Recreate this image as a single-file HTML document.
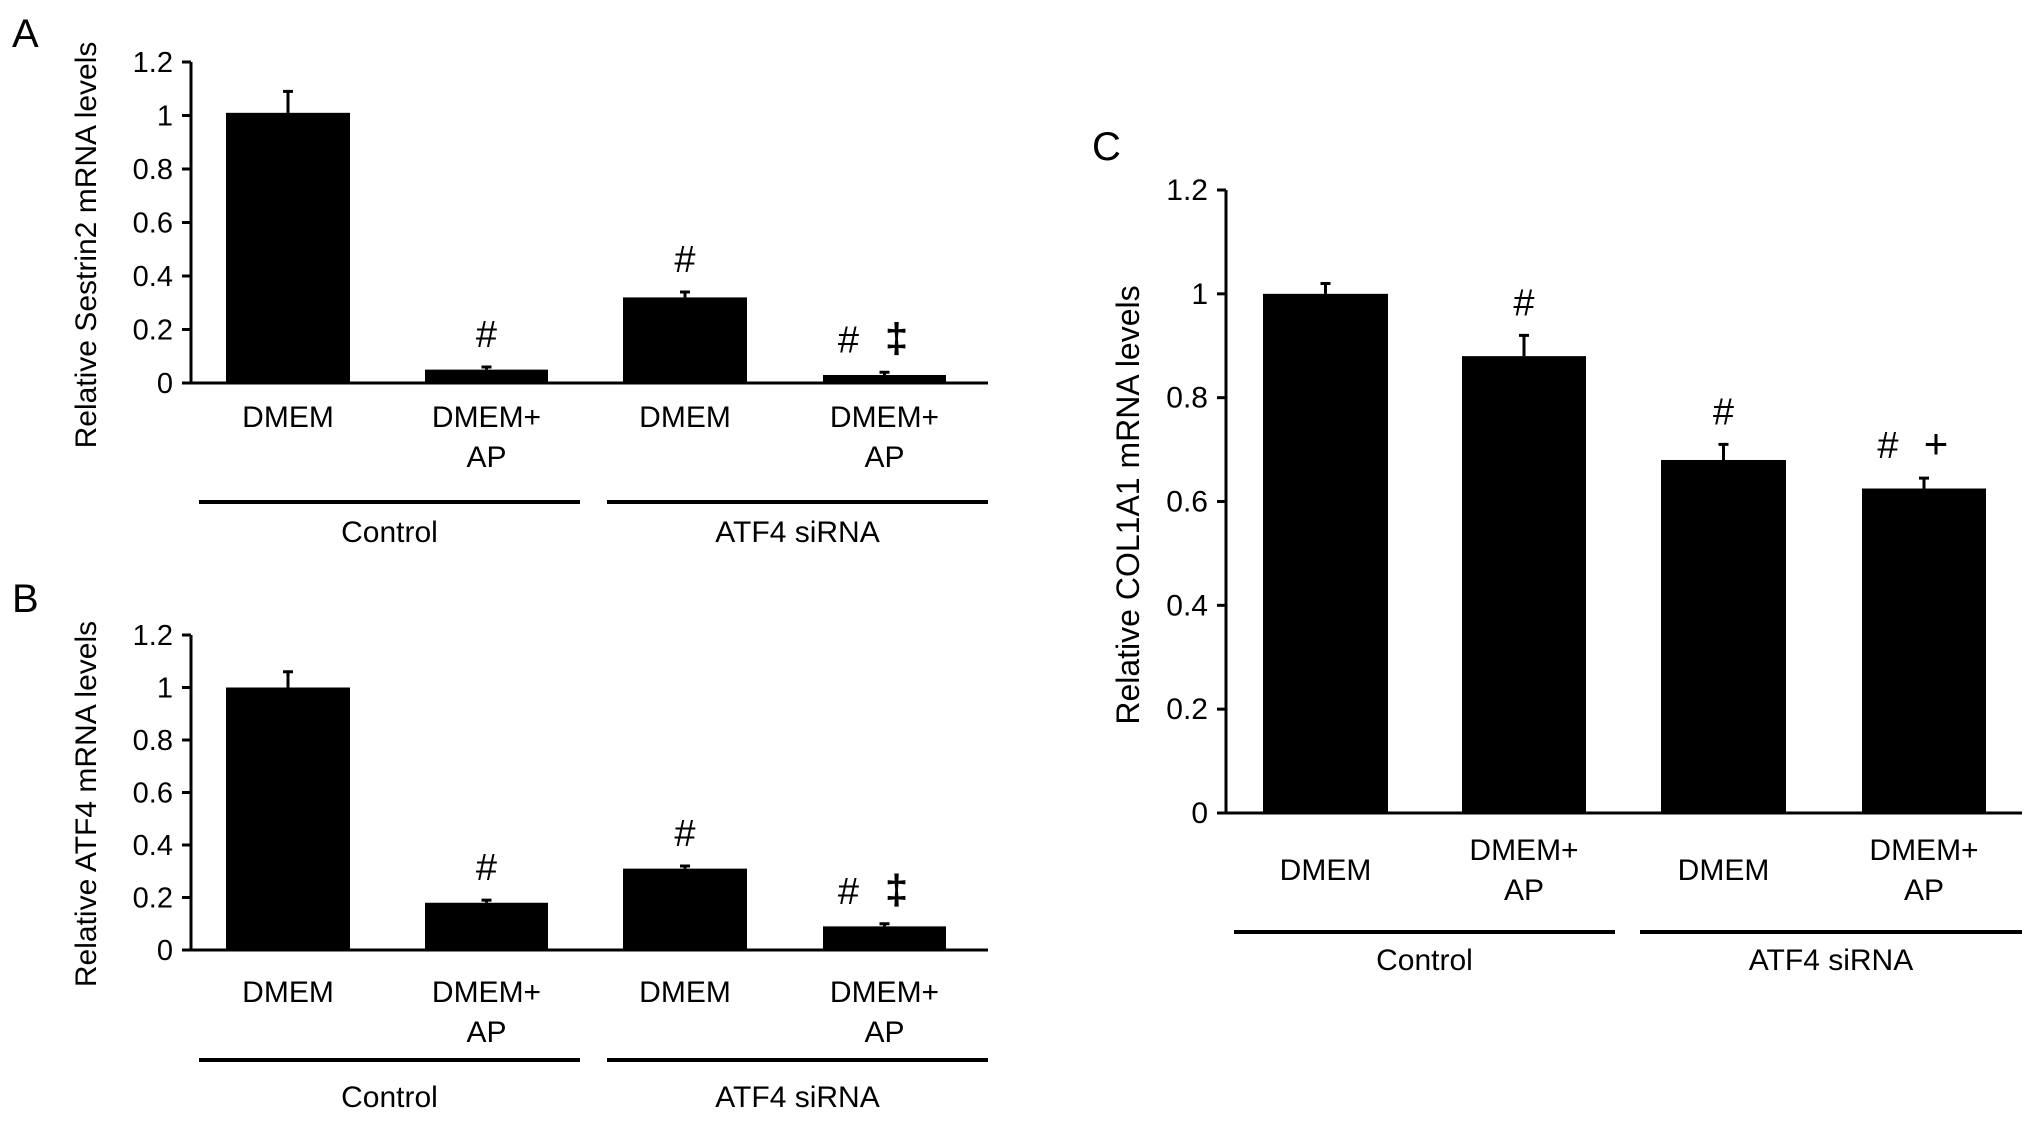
<!DOCTYPE html>
<html><head><meta charset="utf-8"><style>
html,body{margin:0;padding:0;background:#fff;}
svg{display:block;font-family:"Liberation Sans",Arial,sans-serif;}
</style></head><body>
<svg id="fig" width="2032" height="1121" viewBox="0 0 2032 1121" xmlns="http://www.w3.org/2000/svg">
<text x="12" y="47" font-size="40">A</text>
<text x="12" y="612" font-size="40">B</text>
<text x="1092" y="160" font-size="40">C</text>
</svg>
<script>
const categories = ["DMEM", "DMEM+AP", "DMEM", "DMEM+AP"];
const groups = ["Control", "ATF4 siRNA"];
const yTicks = [0, 0.2, 0.4, 0.6, 0.8, 1, 1.2];
const yTickLabels = ["0", "0.2", "0.4", "0.6", "0.8", "1", "1.2"];
const valuesA = [1.01, 0.05, 0.32, 0.03];
const errorsA = [0.08, 0.01, 0.02, 0.01];
const marksA = ["", "#", "#", "# ‡"];
const valuesB = [1.0, 0.18, 0.31, 0.09];
const errorsB = [0.06, 0.01, 0.01, 0.01];
const marksB = ["", "#", "#", "# ‡"];
const valuesC = [1.0, 0.88, 0.68, 0.625];
const errorsC = [0.02, 0.04, 0.03, 0.02];
const marksC = ["", "#", "#", "# +"];

const NS = "http://www.w3.org/2000/svg";
const svg = document.getElementById("fig");
function mk(tag, attrs, parent) {
  const e = document.createElementNS(NS, tag);
  for (const k in attrs) e.setAttribute(k, attrs[k]);
  (parent || svg).appendChild(e);
  return e;
}

function panel(cfg, values, errors, marks) {
  const g = mk("g", {});
  
  
  const yScale = v => cfg.y0 - (v / 1.2) * (cfg.y0 - cfg.y12);
  const ax = mk("line", {x1: cfg.ax, y1: cfg.y12, x2: cfg.ax, y2: cfg.y0, stroke: "#000", "stroke-width": 3}, g);
  
  
  yTicks.forEach((t, i) => {
    const y = yScale(t);
    const tk = mk("line", {x1: cfg.ax - 9, y1: y, x2: cfg.ax, y2: y, stroke: "#000", "stroke-width": 3}, g);
    
    
    const tl = mk("text", {x: cfg.ax - 18, y: y + 10, "font-size": cfg.tickFs, "text-anchor": "end"}, g);
    tl.textContent = yTickLabels[i];
    
    
  });
  const yt = mk("text", {x: 0, y: 0, "font-size": cfg.titleFs, "text-anchor": "middle", transform: `translate(${cfg.tx},${cfg.ty}) rotate(-90)`}, g);
  yt.textContent = cfg.title;
  
  
  values.forEach((v, i) => {
    const x0 = cfg.bars[i][0], x1 = cfg.bars[i][1];
    const cx = (x0 + x1) / 2;
    const top = yScale(v);
    const b = mk("rect", {x: x0, y: top, width: x1 - x0, height: cfg.y0 - top, fill: "#000"}, g);
    
    
    const et = yScale(v + errors[i]);
    const e = mk("path", {d: `M${cx},${top} V${et} M${cx - 5},${et} H${cx + 5}`, stroke: "#000", "stroke-width": 3, fill: "none"}, g);
    
    
    if (marks[i]) {
      const parts = marks[i].split(" ");
      const my = et - 20;
      if (parts.length === 1) {
        const m = mk("text", {x: cx, y: my, "font-size": 38, "text-anchor": "middle"}, g);
        m.textContent = parts[0];
        
        
      } else {
        const m1 = mk("text", {x: cx - 36, y: my, "font-size": 38, "text-anchor": "middle"}, g);
        m1.textContent = parts[0];
        
        
        const m2 = mk("text", {x: cx + 12, y: my, "font-size": 42, "font-weight": parts[1] === "+" ? "normal" : "bold", "text-anchor": "middle"}, g);
        m2.textContent = parts[1];
        
        
      }
    }
    const label = categories[i];
    if (label.indexOf("+") >= 0) {
      const l1 = mk("text", {x: cx, y: cfg.lab2a, "font-size": 30, "text-anchor": "middle"}, g);
      l1.textContent = "DMEM+";
      
      
      const l2 = mk("text", {x: cx, y: cfg.lab2b, "font-size": 30, "text-anchor": "middle"}, g);
      l2.textContent = "AP";
      
      
    } else {
      const l = mk("text", {x: cx, y: cfg.lab1, "font-size": 30, "text-anchor": "middle"}, g);
      l.textContent = label;
      
      
    }
  });
  const xa = mk("line", {x1: cfg.ax, y1: cfg.y0, x2: cfg.axEnd, y2: cfg.y0, stroke: "#000", "stroke-width": 3}, g);
  
  
  groups.forEach((gname, i) => {
    const [a, b] = cfg.glines[i];
    const ln = mk("line", {x1: a, y1: cfg.gy, x2: b, y2: cfg.gy, stroke: "#000", "stroke-width": 4}, g);
    
    
    const t = mk("text", {x: (a + b) / 2, y: cfg.gly, "font-size": 30, "text-anchor": "middle"}, g);
    t.textContent = gname;
    
    
  });
}

panel({id: "panel-a", ax: 191, axEnd: 988, y12: 62, y0: 383, tx: 96, ty: 245,
  title: "Relative Sestrin2 mRNA levels", titleFs: 30, tickFs: 29,
  bars: [[226, 350], [425, 548], [623, 747], [823, 946]],
  lab1: 427, lab2a: 427, lab2b: 467, gy: 502, gly: 542,
  glines: [[199, 580], [607, 988]]}, valuesA, errorsA, marksA);

panel({id: "panel-b", ax: 191, axEnd: 988, y12: 635, y0: 950, tx: 96, ty: 804,
  title: "Relative ATF4 mRNA levels", titleFs: 30, tickFs: 29,
  bars: [[226, 350], [425, 548], [623, 747], [823, 946]],
  lab1: 1002, lab2a: 1002, lab2b: 1042, gy: 1060, gly: 1107,
  glines: [[199, 580], [607, 988]]}, valuesB, errorsB, marksB);

panel({id: "panel-c", ax: 1226, axEnd: 2022, y12: 190, y0: 813, tx: 1139, ty: 505,
  title: "Relative COL1A1 mRNA levels", titleFs: 32, tickFs: 30,
  bars: [[1263, 1388], [1462, 1586], [1661, 1786], [1862, 1986]],
  lab1: 880, lab2a: 860, lab2b: 900, gy: 932, gly: 970,
  glines: [[1234, 1615], [1640, 2022]]}, valuesC, errorsC, marksC);
</script>
</body></html>
